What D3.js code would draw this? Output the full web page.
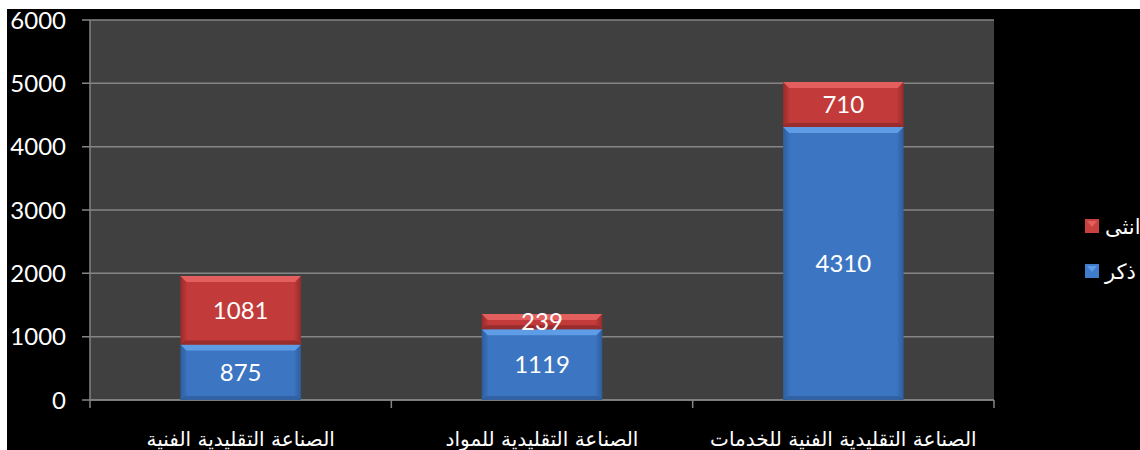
<!DOCTYPE html>
<html>
<head>
<meta charset="utf-8">
<script src="https://d3js.org/d3.v7.min.js"></script>
<style>
  body { margin: 0; background: #fff; overflow: hidden; }
  svg { display: block; }
  text { font-family: Lato, "DejaVu Sans", sans-serif; fill: #fff; }
</style>
</head>
<body>
<script>
// data
var categories = ["الصناعة التقليدية الفنية", "الصناعة التقليدية للمواد", "الصناعة التقليدية الفنية للخدمات"];
var male = [875, 1119, 4310];
var female = [1081, 239, 710];
var seriesNames = ["ذكر", "انثى"];
var yTicks = [0, 1000, 2000, 3000, 4000, 5000, 6000];

var W = 1140, H = 450;
var margin = {top: 20, left: 90, right: 146, bottom: 50};
var plotW = W - margin.left - margin.right;
var plotH = H - margin.top - margin.bottom;

var svg = d3.select("body").append("svg").attr("width", W).attr("height", H);

// black slide background, white strip on the top and left edges
svg.append("rect").attr("x", 7).attr("y", 9).attr("width", W).attr("height", H).attr("fill", "#000");

var defs = svg.append("defs");
function sideGrad(id, edge, mid) {
  var g = defs.append("linearGradient").attr("id", id).attr("x1", 0).attr("x2", 1).attr("y1", 0).attr("y2", 0);
  g.append("stop").attr("offset", "0%").attr("stop-color", edge);
  g.append("stop").attr("offset", "6%").attr("stop-color", mid);
  g.append("stop").attr("offset", "94%").attr("stop-color", mid);
  g.append("stop").attr("offset", "100%").attr("stop-color", edge);
}
sideGrad("gBlue", "#2e5d9c", "#3c75c2");
sideGrad("gRed", "#982b2b", "#c23b3a");

var colors = {
  male: {fill: "url(#gBlue)", top: "#5e9de6", bottom: "#2f5e9c", legend: "#3f7ccb"},
  female: {fill: "url(#gRed)", top: "#e35f5e", bottom: "#8f2b2b", legend: "#c9413f"}
};

var g = svg.append("g").attr("transform", "translate(" + margin.left + "," + margin.top + ")");

var x = d3.scaleBand().domain(categories).range([0, plotW]).paddingInner(0.6).paddingOuter(0.3);
var y = d3.scaleLinear().domain([0, 6000]).range([plotH, 0]);

g.append("rect").attr("width", plotW).attr("height", plotH).attr("fill", "#404040");

// gridlines
g.selectAll(".grid").data(yTicks).enter().append("line")
  .attr("x1", -8).attr("x2", plotW)
  .attr("y1", function(d) { return y(d); }).attr("y2", function(d) { return y(d); })
  .attr("stroke", "#858585").attr("stroke-width", 1.5);

// y axis labels
g.selectAll(".ylab").data(yTicks).enter().append("text")
  .attr("x", -24).attr("y", function(d) { return y(d); })
  .attr("dy", "0.36em").attr("text-anchor", "end")
  .style("font-size", "24px")
  .text(function(d) { return d; });

// axes lines
g.append("line").attr("x1", 0).attr("x2", 0).attr("y1", 0).attr("y2", plotH)
  .attr("stroke", "#858585").attr("stroke-width", 1.5);
g.append("line").attr("x1", 0).attr("x2", plotW).attr("y1", plotH).attr("y2", plotH)
  .attr("stroke", "#858585").attr("stroke-width", 1.5);
var step = plotW / categories.length;
g.selectAll(".xtick").data(d3.range(categories.length + 1)).enter().append("line")
  .attr("x1", function(i) { return i * step; }).attr("x2", function(i) { return i * step; })
  .attr("y1", plotH).attr("y2", plotH + 8)
  .attr("stroke", "#858585").attr("stroke-width", 1.5);

// stacked segments
var rows = categories.map(function(c, i) {
  return [
    {key: "male", cat: c, y0: 0, y1: male[i], v: male[i]},
    {key: "female", cat: c, y0: male[i], y1: male[i] + female[i], v: female[i]}
  ];
});
var segs = [].concat.apply([], rows);

var bw = x.bandwidth();
var seg = g.selectAll(".seg").data(segs).enter().append("g");

seg.append("rect")
  .attr("x", function(d) { return x(d.cat); })
  .attr("y", function(d) { return y(d.y1); })
  .attr("width", bw)
  .attr("height", function(d) { return y(d.y0) - y(d.y1); })
  .attr("fill", function(d) { return colors[d.key].fill; });

// bevel top
seg.append("polygon")
  .attr("points", function(d) {
    var x0 = x(d.cat), x1 = x0 + bw, t = y(d.y1), b = Math.min(6, (y(d.y0) - y(d.y1)) / 2);
    return [[x0, t], [x1, t], [x1 - 6, t + b], [x0 + 6, t + b]].join(" ");
  })
  .attr("fill", function(d) { return colors[d.key].top; });

// bevel bottom
seg.append("polygon")
  .attr("points", function(d) {
    var x0 = x(d.cat), x1 = x0 + bw, bt = y(d.y0), b = Math.min(4, (y(d.y0) - y(d.y1)) / 3);
    return [[x0, bt], [x1, bt], [x1 - 5, bt - b], [x0 + 5, bt - b]].join(" ");
  })
  .attr("fill", function(d) { return colors[d.key].bottom; })
  .attr("opacity", 0.8);

seg.append("text")
  .attr("x", function(d) { return x(d.cat) + bw / 2; })
  .attr("y", function(d) { return (y(d.y0) + y(d.y1)) / 2; })
  .attr("dy", "0.36em").attr("text-anchor", "middle")
  .style("font-size", "24px")
  .text(function(d) { return d.v; });

// category labels
g.selectAll(".xlab").data(categories).enter().append("text")
  .attr("x", function(d) { return x(d) + bw / 2; })
  .attr("y", plotH + 46)
  .attr("text-anchor", "middle")
  .attr("direction", "rtl")
  .style("font-size", "20px")
  .style("font-family", "'DejaVu Sans', sans-serif")
  .text(function(d) { return d; });

// legend
var legend = svg.append("g");
var legendItems = [
  {name: seriesNames[1], c: colors.female, y: 226},
  {name: seriesNames[0], c: colors.male, y: 271}
];
var li = legend.selectAll(".li").data(legendItems).enter().append("g")
  .attr("transform", function(d) { return "translate(1085," + d.y + ")"; });
li.append("rect").attr("x", 0).attr("y", -7).attr("width", 14).attr("height", 14)
  .attr("fill", function(d) { return d.c.legend; });
li.append("polygon").attr("points", "2,-5 12,-5 7,1")
  .attr("fill", function(d) { return d.c.top; });
li.append("text").attr("x", 20).attr("dy", "0.36em")
  .style("font-size", "21px")
  .style("font-family", "'DejaVu Sans', sans-serif")
  .text(function(d) { return d.name; });
</script>
</body>
</html>
